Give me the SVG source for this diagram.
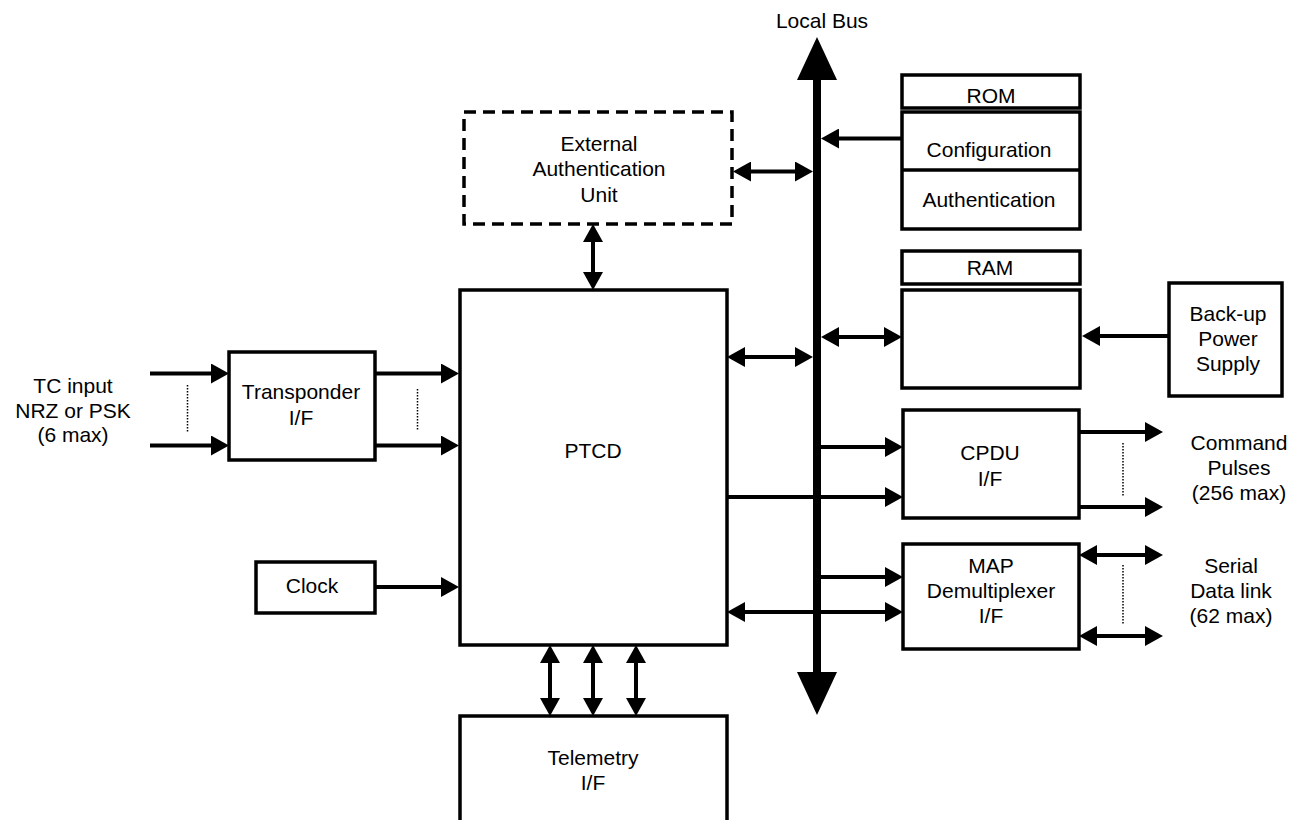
<svg xmlns="http://www.w3.org/2000/svg" width="1301" height="820" viewBox="0 0 1301 820">
<style>
.box{fill:#fff;stroke:#000;stroke-width:3.5}
.dash{fill:#fff;stroke:#000;stroke-width:3.5;stroke-dasharray:12 7}
.t{font-family:"Liberation Sans",Arial,sans-serif;font-size:21px;fill:#000;text-anchor:middle}
.c{stroke:#000;stroke-width:4;fill:none}
.a1{marker-end:url(#ah)}
.a2{marker-start:url(#ah);marker-end:url(#ah)}
.dot{stroke:#000;stroke-width:1.5;stroke-dasharray:1.5 1.5;fill:none}
</style>
<defs>
<marker id="ah" viewBox="0 0 18 20" markerWidth="18" markerHeight="20" refX="8" refY="10" orient="auto-start-reverse" markerUnits="userSpaceOnUse">
<path d="M0,0 L18,10 L0,20 z" fill="#000"/>
</marker>
</defs>
<rect width="1301" height="820" fill="#fff"/>

<g id="bus">
<text class="t" x="822" y="28">Local Bus</text>
<line x1="817" y1="75" x2="817" y2="677" stroke="#000" stroke-width="8"/>
<polygon points="817,37 797,80 837,80" fill="#000"/>
<polygon points="817,715 797,672 837,672" fill="#000"/>
</g>

<g id="connectors">
<line class="c a1" x1="902" y1="138.5" x2="831" y2="138.5"/>
<line class="c a2" x1="743" y1="171.5" x2="803" y2="171.5"/>
<line class="c a2" x1="593" y1="234" x2="593" y2="280"/>
<line class="c a2" x1="737" y1="357" x2="803" y2="357"/>
<line class="c a2" x1="831" y1="337" x2="892" y2="337"/>
<line class="c a1" x1="1169" y1="336" x2="1092" y2="336"/>
<line class="c a1" x1="150" y1="373.5" x2="219" y2="373.5"/>
<line class="c a1" x1="150" y1="445.5" x2="219" y2="445.5"/>
<line class="c a1" x1="375" y1="373.5" x2="449" y2="373.5"/>
<line class="c a1" x1="375" y1="445.5" x2="449" y2="445.5"/>
<line class="c a1" x1="375" y1="587" x2="449" y2="587"/>
<line class="c a1" x1="817" y1="447" x2="893" y2="447"/>
<line class="c a1" x1="727" y1="497" x2="893" y2="497"/>
<line class="c a1" x1="817" y1="577" x2="893" y2="577"/>
<line class="c a2" x1="737" y1="612" x2="893" y2="612"/>
<line class="c a1" x1="1079" y1="432" x2="1153" y2="432"/>
<line class="c a1" x1="1079" y1="507" x2="1153" y2="507"/>
<line class="c a2" x1="1089" y1="555" x2="1153" y2="555"/>
<line class="c a2" x1="1089" y1="636" x2="1153" y2="636"/>
<line class="c a2" x1="550" y1="655" x2="550" y2="706"/>
<line class="c a2" x1="593" y1="655" x2="593" y2="706"/>
<line class="c a2" x1="636" y1="655" x2="636" y2="706"/>
<line class="dot" x1="187.5" y1="385" x2="187.5" y2="433"/>
<line class="dot" x1="417.5" y1="389" x2="417.5" y2="431"/>
<line class="dot" x1="1123" y1="443" x2="1123" y2="496"/>
<line class="dot" x1="1123" y1="565" x2="1123" y2="625"/>
</g>

<g id="tc-input">
<text class="t" x="73" y="393">TC input</text>
<text class="t" x="73" y="418">NRZ or PSK</text>
<text class="t" x="73" y="442">(6 max)</text>
</g>

<g id="transponder">
<rect class="box" x="229" y="352" width="146" height="108"/>
<text class="t" x="301" y="399">Transponder</text>
<text class="t" x="301" y="425">I/F</text>
</g>

<g id="clock">
<rect class="box" x="256" y="562" width="119" height="51"/>
<text class="t" x="312" y="593">Clock</text>
</g>

<g id="ext-auth">
<rect class="dash" x="464" y="112" width="268" height="112"/>
<text class="t" x="599" y="151">External</text>
<text class="t" x="599" y="176">Authentication</text>
<text class="t" x="599" y="201.5">Unit</text>
</g>

<g id="ptcd">
<rect class="box" x="460" y="290" width="267" height="355"/>
<text class="t" x="593" y="458">PTCD</text>
</g>

<g id="telemetry">
<rect class="box" x="460" y="716" width="267" height="130"/>
<text class="t" x="593" y="765">Telemetry</text>
<text class="t" x="593" y="790">I/F</text>
</g>

<g id="rom">
<rect class="box" x="902" y="75" width="178" height="33"/>
<text class="t" x="991" y="103">ROM</text>
</g>

<g id="rom-body">
<rect class="box" x="902" y="112" width="178" height="117"/>
<line x1="902" y1="170" x2="1080" y2="170" stroke="#000" stroke-width="3.5"/>
<text class="t" x="989" y="157">Configuration</text>
<text class="t" x="989" y="207">Authentication</text>
</g>

<g id="ram">
<rect class="box" x="902" y="251" width="178" height="33"/>
<text class="t" x="990" y="275">RAM</text>
</g>

<g id="ram-body">
<rect class="box" x="902" y="290" width="178" height="98"/>
</g>

<g id="backup">
<rect class="box" x="1169" y="283" width="113" height="113"/>
<text class="t" x="1228" y="321">Back-up</text>
<text class="t" x="1228" y="346">Power</text>
<text class="t" x="1228" y="371">Supply</text>
</g>

<g id="cpdu">
<rect class="box" x="903" y="410" width="176" height="108"/>
<text class="t" x="990" y="460">CPDU</text>
<text class="t" x="990" y="486">I/F</text>
</g>

<g id="command-pulses">
<text class="t" x="1239" y="450">Command</text>
<text class="t" x="1239" y="475">Pulses</text>
<text class="t" x="1239" y="500">(256 max)</text>
</g>

<g id="map">
<rect class="box" x="903" y="544" width="176" height="105"/>
<text class="t" x="991" y="573">MAP</text>
<text class="t" x="991" y="598">Demultiplexer</text>
<text class="t" x="991" y="623">I/F</text>
</g>

<g id="serial">
<text class="t" x="1231" y="573">Serial</text>
<text class="t" x="1231" y="598">Data link</text>
<text class="t" x="1231" y="623">(62 max)</text>
</g>
</svg>
